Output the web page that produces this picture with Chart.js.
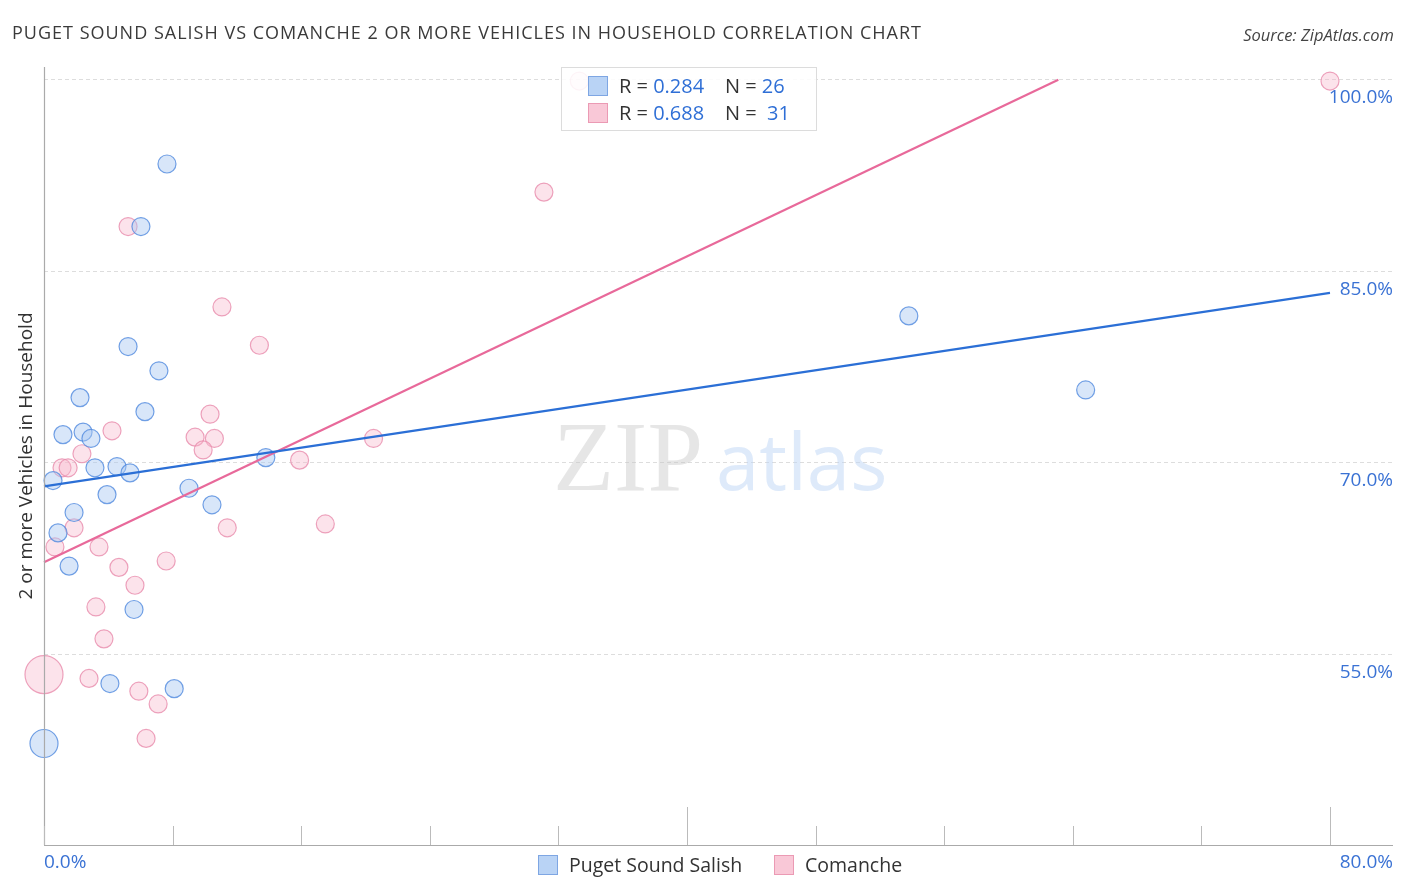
<!DOCTYPE html>
<html>
<head>
<meta charset="utf-8">
<script src="https://cdn.jsdelivr.net/npm/chart.js@4.4.1/dist/chart.umd.min.js"></script>
<style>
  html, body { margin: 0; padding: 0; background: #fff; }
  body { width: 1406px; height: 892px; position: relative; overflow: hidden; font-family: "Open Sans", "DejaVu Sans", sans-serif; }
  #wrap { position: absolute; left: 0; top: 0; width: 1406px; height: 892px; }
  .title { position: absolute; left: 12px; top: 20px; font-size: 18px; color: #3a3a3a; letter-spacing: 1px; white-space: nowrap; }
  .source { position: absolute; right: 12px; top: 23px; font-size: 16.5px; color: #444; font-style: italic; }
  .rbox { position: absolute; left: 561px; top: 67px; width: 254px; height: 62px; border: 1px solid #dcdcdc; background: rgba(255,255,255,0.88); font-size: 20px; color: #333; }
  .rrow { position: absolute; left: 26px; height: 24px; line-height: 24px; white-space: nowrap; }
  .sw { display: inline-block; width: 20px; height: 20px; vertical-align: -3px; margin-right: 11px; box-sizing: border-box; }
  .num { color: #2f6fd6; }
  .legend { position: absolute; top: 851px; font-size: 19.5px; color: #333; white-space: nowrap; }
</style>
</head>
<body>
<div id="wrap"><canvas id="chart" width="1406" height="892"></canvas></div>
<div class="title">PUGET SOUND SALISH VS COMANCHE 2 OR MORE VEHICLES IN HOUSEHOLD CORRELATION CHART</div>
<div class="source">Source: ZipAtlas.com</div>
<div class="rbox">
  <div class="rrow" style="top:6px"><span class="sw" style="background:#b9d3f5;border:1px solid #7ea6e3"></span>R = <span class="num">0.284</span>&nbsp;&nbsp;&nbsp;&nbsp;N = <span class="num">26</span></div>
  <div class="rrow" style="top:33px"><span class="sw" style="background:#f9c8d7;border:1px solid #eb9ab4"></span>R = <span class="num">0.688</span>&nbsp;&nbsp;&nbsp;&nbsp;N = &nbsp;<span class="num">31</span></div>
</div>
<div class="legend" style="left:538px"><span class="sw" style="background:#b9d3f5;border:1px solid #7ea6e3"></span>Puget Sound Salish</div>
<div class="legend" style="left:774px"><span class="sw" style="background:#f9c8d7;border:1px solid #eb9ab4"></span>Comanche</div>
<script>
// Puget Sound Salish points (x = share %, y = 2+ vehicles %)
const salishX = [7.65, 6.03, 5.23, 7.15, 2.24, 6.28, 1.18, 2.43, 2.92, 3.17, 4.54, 5.35, 13.8, 0.56, 3.92, 9.02, 10.45, 1.87, 0.87, 1.56, 5.6, 4.1, 8.1, 0, 53.8, 64.8];
const salishY = [93.4, 88.5, 79.1, 77.2, 75.1, 74.0, 72.2, 72.4, 71.9, 69.6, 69.7, 69.2, 70.4, 68.6, 67.5, 68.0, 66.7, 66.1, 64.5, 61.9, 58.5, 52.7, 52.3, 48.0, 81.5, 75.7];
const salishR = [9, 9, 9, 9, 9, 9, 9, 9, 9, 9, 9, 9, 9, 9, 9, 9, 9, 9, 9, 9, 9, 9, 9, 14, 9, 9];

// Comanche points
const comancheX = [33.3, 80, 31.1, 5.23, 11.07, 13.4, 10.33, 4.23, 9.4, 10.6, 9.9, 20.5, 15.9, 2.36, 1.12, 1.5, 1.87, 11.4, 17.5, 0.68, 3.42, 7.6, 4.66, 5.66, 3.23, 3.73, 0, 2.8, 5.9, 7.1, 6.35];
const comancheY = [99.9, 99.9, 91.2, 88.5, 82.2, 79.2, 73.8, 72.5, 72.0, 71.9, 71.0, 71.9, 70.2, 70.7, 69.6, 69.6, 64.9, 64.9, 65.2, 63.4, 63.4, 62.3, 61.8, 60.4, 58.7, 56.2, 53.4, 53.1, 52.1, 51.1, 48.4];
const comancheR = [9, 9, 9, 9, 9, 9, 9, 9, 9, 9, 9, 9, 9, 9, 9, 9, 9, 9, 9, 9, 9, 9, 9, 9, 9, 9, 19, 9, 9, 9, 9];

// trend line end points
const salishTrendX = [0, 80];
const salishTrendY = [68.15, 83.3];
const comancheTrendX = [0, 63.1];
const comancheTrendY = [62.2, 100];

const yTicks = [55, 70, 85, 100];
const xTicks = [0, 8, 16, 24, 32, 40, 48, 56, 64, 72, 80];
const xMajor = [40, 80];

const pts = (xs, ys) => xs.map((x, i) => ({ x: x, y: ys[i] }));

const decor = {
  id: 'decor',
  beforeDatasetsDraw(chart) {
    const ctx = chart.ctx;
    ctx.save();
    // watermark
    ctx.textBaseline = 'alphabetic';
    ctx.font = '100px "Liberation Serif", serif';
    ctx.fillStyle = 'rgba(200,200,200,0.45)';
    ctx.fillText('ZIP', 553, 490);
    ctx.font = '78px "Open Sans", sans-serif';
    ctx.fillStyle = 'rgba(190,214,245,0.5)';
    ctx.fillText('atlas', 716, 490);
    ctx.restore();
  },
  afterDraw(chart) {
    const ctx = chart.ctx;
    const xs = chart.scales.x, ys = chart.scales.y;
    const area = chart.chartArea;
    ctx.save();
    // left axis line
    ctx.strokeStyle = '#aaa';
    ctx.lineWidth = 1.2;
    ctx.beginPath();
    ctx.moveTo(area.left + 0.5, area.top);
    ctx.lineTo(area.left + 0.5, area.bottom);
    ctx.stroke();
    // inward x ticks
    ctx.strokeStyle = '#bbb';
    ctx.lineWidth = 1;
    xTicks.forEach(v => {
      const px = Math.round(xs.getPixelForValue(v)) + 0.5;
      const len = xMajor.includes(v) ? 38 : 19;
      ctx.beginPath();
      ctx.moveTo(px, area.bottom);
      ctx.lineTo(px, area.bottom - len);
      ctx.stroke();
    });
    // bottom axis
    ctx.strokeStyle = '#aaa';
    ctx.lineWidth = 1.2;
    ctx.beginPath();
    ctx.moveTo(area.left, area.bottom + 0.5);
    ctx.lineTo(area.right, area.bottom + 0.5);
    ctx.stroke();
    // y tick labels (right, below the gridline)
    ctx.fillStyle = '#3a72d4';
    ctx.font = '19px "Open Sans", sans-serif';
    ctx.textAlign = 'right';
    ctx.textBaseline = 'middle';
    yTicks.forEach(v => {
      ctx.fillText(v.toFixed(1) + '%', area.right, ys.getPixelForValue(v) + 18);
    });
    // x labels
    ctx.textAlign = 'left';
    ctx.fillText(xTicks[0].toFixed(1) + '%', area.left, area.bottom + 18);
    ctx.textAlign = 'right';
    ctx.fillText(xTicks[xTicks.length - 1].toFixed(1) + '%', area.right, area.bottom + 18);
    // y title
    ctx.fillStyle = '#333';
    ctx.font = '19px "Open Sans", sans-serif';
    ctx.textAlign = 'center';
    ctx.translate(27, (area.top + area.bottom) / 2);
    ctx.rotate(-Math.PI / 2);
    ctx.fillText('2 or more Vehicles in Household', 0, 0);
    ctx.restore();
  }
};

const chart = new Chart(document.getElementById('chart'), {
  type: 'scatter',
  data: {
    datasets: [
      {
        label: 'Puget Sound Salish',
        data: pts(salishX, salishY),
        pointRadius: salishR,
        backgroundColor: 'rgba(168,200,242,0.45)',
        borderColor: 'rgba(80,138,222,0.8)',
        borderWidth: 1.2,
        order: 2
      },
      {
        label: 'Comanche',
        data: pts(comancheX, comancheY),
        pointRadius: comancheR,
        backgroundColor: 'rgba(248,184,204,0.4)',
        borderColor: 'rgba(232,140,172,0.8)',
        borderWidth: 1.2,
        order: 2
      },
      {
        type: 'line',
        label: 'Salish trend',
        data: pts(salishTrendX, salishTrendY),
        borderColor: '#2b6fd6',
        borderWidth: 2.2,
        pointRadius: 0,
        fill: false,
        order: 0
      },
      {
        type: 'line',
        label: 'Comanche trend',
        data: pts(comancheTrendX, comancheTrendY),
        borderColor: '#e8699a',
        borderWidth: 2.2,
        pointRadius: 0,
        fill: false,
        order: 0
      }
    ]
  },
  options: {
    responsive: false,
    animation: false,
    clip: false,
    layout: { autoPadding: false, padding: { left: 44, right: 13, top: 67, bottom: 47 } },
    plugins: { legend: { display: false }, tooltip: { enabled: false } },
    scales: {
      x: {
        type: 'linear',
        min: 0,
        max: 83.92,
        display: false
      },
      y: {
        type: 'linear',
        min: 40.05,
        max: 101.0,
        display: true,
        afterBuildTicks: (axis) => { axis.ticks = yTicks.map(v => ({ value: v })); },
        grid: { color: '#dddddd', drawTicks: false, lineWidth: 1 },
        border: { display: false, dash: [4, 3] },
        ticks: { display: false }
      }
    }
  },
  plugins: [decor]
});
</script>
</body>
</html>
